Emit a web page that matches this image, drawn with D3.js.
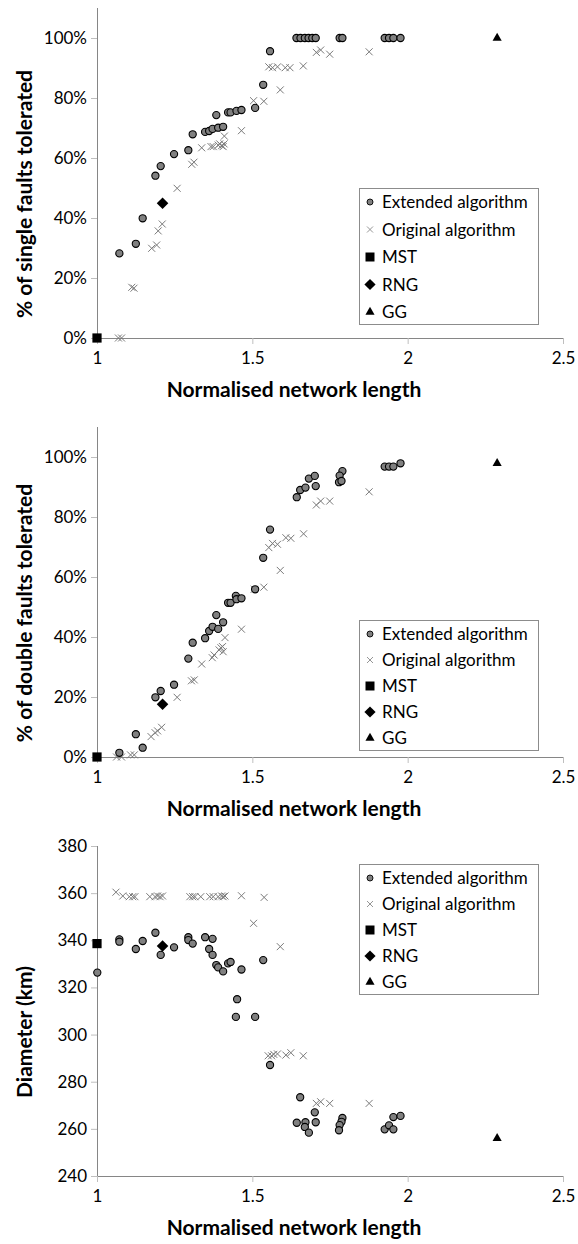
<!DOCTYPE html>
<html>
<head>
<meta charset="utf-8">
<script src="https://cdn.jsdelivr.net/npm/d3@7"></script>
<style>
  html, body { margin: 0; padding: 0; background: #fff; }
  svg { display: block; font-family: Lato, "Open Sans", sans-serif; }
</style>
</head>
<body>
<svg id="chart" width="578" height="1244"></svg>
<script>
// ---------- DATA ----------
const xTicks = [1, 1.5, 2, 2.5];
const xTitle = "Normalised network length";
const seriesNames = ["Extended algorithm", "Original algorithm", "MST", "RNG", "GG"];

// Reference graphs (x = normalised length)
const mstX = 1.0, rngX = 1.211, ggX = 2.288;

// Panel 1: % of single faults tolerated
const single_extX = [1.072,1.125,1.147,1.188,1.205,1.248,1.294,1.308,1.348,1.361,1.372,1.384,1.390,1.406,1.422,1.430,1.449,1.465,1.509,1.535,1.557,1.642,1.655,1.669,1.681,1.693,1.704,1.781,1.790,1.926,1.940,1.954,1.977];
const single_extY = [28.2,31.4,39.9,54.1,57.3,61.3,62.6,67.9,68.7,69.0,69.7,74.3,70.1,70.4,75.2,75.2,75.7,76.0,76.7,84.4,95.6,100,100,100,100,100,100,100,100,100,100,100,100];
const single_origX = [1.069,1.079,1.112,1.119,1.176,1.192,1.197,1.210,1.258,1.305,1.312,1.337,1.367,1.374,1.390,1.395,1.401,1.406,1.409,1.410,1.465,1.504,1.537,1.553,1.565,1.581,1.590,1.606,1.621,1.664,1.706,1.720,1.749,1.876];
const single_origY = [0,0,16.9,16.6,29.9,31.0,35.7,38.0,49.9,57.9,58.6,63.4,63.8,63.8,64.3,64.7,64.1,63.8,64.7,67.3,69.1,79.1,78.9,90.4,90.1,90.4,82.7,90.1,90.1,90.7,95.2,96.0,94.6,95.4];
const single_ref = [0, 44.9, 100];          // MST, RNG, GG
const single_yTicks = [0, 20, 40, 60, 80, 100];

// Panel 2: % of double faults tolerated
const double_extX = [1.072,1.147,1.125,1.188,1.205,1.248,1.294,1.308,1.348,1.361,1.372,1.390,1.406,1.384,1.422,1.430,1.447,1.449,1.465,1.509,1.535,1.557,1.643,1.654,1.671,1.682,1.701,1.704,1.790,1.781,1.779,1.787,1.926,1.940,1.954,1.977];
const double_extY = [1.4,3.1,7.6,19.9,22.0,24.1,32.8,38.1,39.6,42.0,43.4,42.7,44.9,47.3,51.4,51.4,53.7,52.6,52.9,55.9,66.4,75.8,86.6,89.0,89.8,92.8,93.7,90.3,95.3,93.8,91.6,92.0,96.8,96.8,96.8,97.9];
const double_origX = [1.063,1.079,1.108,1.120,1.174,1.187,1.195,1.208,1.258,1.304,1.313,1.337,1.371,1.377,1.393,1.399,1.406,1.404,1.412,1.465,1.506,1.537,1.553,1.565,1.581,1.590,1.608,1.624,1.665,1.706,1.720,1.749,1.876];
const double_origY = [0,0,0.7,0.7,6.8,8.1,8.7,9.9,19.9,25.4,25.7,31.0,33.1,34.0,35.7,36.4,35.1,36.8,39.8,42.6,55.9,56.6,69.8,71.2,70.9,62.2,73.1,72.9,74.4,84.0,85.3,85.3,88.4];
const double_ref = [0, 17.6, 97.9];
const double_yTicks = [0, 20, 40, 60, 80, 100];

// Panel 3: Diameter (km)
const diam_extX = [1.001,1.072,1.072,1.125,1.147,1.188,1.205,1.248,1.294,1.294,1.308,1.348,1.372,1.361,1.372,1.384,1.390,1.406,1.422,1.430,1.465,1.451,1.447,1.509,1.535,1.557,1.654,1.701,1.643,1.671,1.669,1.682,1.704,1.790,1.787,1.781,1.779,1.926,1.940,1.954,1.954,1.977];
const diam_extY = [326.3,340.4,339.4,336.3,339.7,343.2,333.8,337.0,341.3,340.1,338.6,341.3,340.6,336.3,333.8,329.5,328.5,326.8,330.2,330.8,327.6,315.0,307.5,307.5,331.6,287.1,273.4,267.0,262.6,262.8,260.8,258.4,262.8,264.6,263.0,261.6,259.4,259.8,261.5,259.8,265.0,265.5];
const diam_origX = [1.061,1.083,1.104,1.115,1.122,1.170,1.187,1.195,1.203,1.211,1.299,1.308,1.315,1.334,1.363,1.374,1.390,1.401,1.406,1.412,1.465,1.538,1.504,1.590,1.551,1.562,1.569,1.581,1.608,1.624,1.664,1.706,1.720,1.749,1.876];
const diam_origY = [360.4,358.8,358.5,358.5,358.5,358.5,358.5,358.8,358.5,358.8,358.5,358.5,358.5,358.5,358.5,358.5,358.5,358.8,358.5,358.8,358.9,358.2,347.2,337.3,291.0,291.0,291.6,291.8,291.3,292.3,291.0,270.8,271.5,270.8,270.8];
const diam_ref = [338.6, 337.6, 256];
const diam_yTicks = [240, 260, 280, 300, 320, 340, 360, 380];

// ---------- LAYOUT ----------
const svg = d3.select("#chart");
const LEFT = 97, RIGHT = 563;
const x = d3.scaleLinear().domain([1, 2.5]).range([LEFT, RIGHT]);

const panels = [
  { top: 8,   bottom: 338,  domain: [0, 110],   ticks: single_yTicks, fmt: d => d + "%",
    title: "% of single faults tolerated",
    extX: single_extX, extY: single_extY, origX: single_origX, origY: single_origY, ref: single_ref,
    legendTop: 188, legendGap: 27.5 },
  { top: 427, bottom: 757,  domain: [0, 110],   ticks: double_yTicks, fmt: d => d + "%",
    title: "% of double faults tolerated",
    extX: double_extX, extY: double_extY, origX: double_origX, origY: double_origY, ref: double_ref,
    legendTop: 620, legendGap: 26 },
  { top: 846, bottom: 1176, domain: [240, 380], ticks: diam_yTicks, fmt: d => d,
    title: "Diameter (km)",
    extX: diam_extX, extY: diam_extY, origX: diam_origX, origY: diam_origY, ref: diam_ref,
    legendTop: 864, legendGap: 26 }
];

const AXIS = "#868686", TICK = "#bfbfbf";
const sym = {
  square: d3.symbol().type(d3.symbolSquare),
  diamond: d3.symbol().type(d3.symbolDiamond2),
  triangle: d3.symbol().type(d3.symbolTriangle2)
};

function drawX(g, cx, cy, h, color, w) {
  g.append("path")
    .attr("d", `M${cx-h},${cy-h}L${cx+h},${cy+h}M${cx-h},${cy+h}L${cx+h},${cy-h}`)
    .attr("stroke", color).attr("stroke-width", w).attr("fill", "none");
}

panels.forEach(p => {
  const y = d3.scaleLinear().domain(p.domain).range([p.bottom, p.top]);
  const g = svg.append("g");

  // y axis
  const yAxis = d3.axisLeft(y).tickValues(p.ticks).tickFormat(p.fmt).tickSize(6).tickPadding(4);
  const ya = g.append("g").attr("transform", `translate(${LEFT},0)`).call(yAxis);
  ya.select(".domain").attr("stroke", AXIS).attr("d", `M0.5,${p.top}V${p.bottom}`);
  ya.selectAll(".tick line").attr("stroke", TICK);
  ya.selectAll(".tick text").attr("font-size", 17).attr("fill", "#000")
    .attr("font-family", "Lato, 'Open Sans', sans-serif");

  // x axis
  const xAxis = d3.axisBottom(x).tickValues(xTicks).tickFormat(d3.format("")).tickSize(6).tickPadding(8);
  const xa = g.append("g").attr("transform", `translate(0,${p.bottom})`).call(xAxis);
  xa.select(".domain").attr("stroke", AXIS).attr("d", `M${LEFT},0.5H${RIGHT}`);
  xa.selectAll(".tick line").attr("stroke", TICK);
  xa.selectAll(".tick text").attr("font-size", 17).attr("fill", "#000")
    .attr("font-family", "Lato, 'Open Sans', sans-serif");

  // axis titles
  g.append("text").attr("x", (LEFT + RIGHT) / 2 - 36).attr("y", p.bottom + 59)
    .attr("text-anchor", "middle").attr("font-weight", "bold").attr("font-size", 21)
    .text(xTitle);
  g.append("text")
    .attr("transform", `translate(32,${(p.top + p.bottom) / 2 + 21}) rotate(-90)`)
    .attr("text-anchor", "middle").attr("font-weight", "bold").attr("font-size", 21)
    .text(p.title);

  // original algorithm (x marks)
  const og = g.append("g");
  p.origX.forEach((v, i) => drawX(og, x(v), y(p.origY[i]), 3.5, "#7a7a7a", 1));

  // extended algorithm (circles)
  g.append("g").selectAll("circle")
    .data(p.extX.map((v, i) => [v, p.extY[i]]))
    .join("circle")
    .attr("cx", d => x(d[0])).attr("cy", d => y(d[1])).attr("r", 3.6)
    .attr("fill", "#808080").attr("stroke", "#000").attr("stroke-width", 1.1);

  // reference markers
  g.append("path").attr("d", sym.square.size(85)())
    .attr("transform", `translate(${x(mstX)},${y(p.ref[0])})`).attr("fill", "#000");
  g.append("path").attr("d", sym.diamond.size(85)())
    .attr("transform", `translate(${x(rngX)},${y(p.ref[1])})`).attr("fill", "#000");
  g.append("path").attr("d", sym.triangle.size(60)())
    .attr("transform", `translate(${x(ggX)},${y(p.ref[2])})`).attr("fill", "#000");

  // legend
  const lx = 359, lw = 179, lt = p.legendTop, gap = p.legendGap;
  const lh = 14 + 4 * gap + 12;
  const lg = g.append("g");
  lg.append("rect").attr("x", lx + 0.5).attr("y", lt + 0.5).attr("width", lw).attr("height", lh)
    .attr("fill", "#fff").attr("stroke", "#8c8c8c");
  seriesNames.forEach((name, i) => {
    const cy = lt + 14 + i * gap;
    const mx = lx + 11;
    if (i === 0) lg.append("circle").attr("cx", mx).attr("cy", cy).attr("r", 3)
      .attr("fill", "#808080").attr("stroke", "#000").attr("stroke-width", 0.9);
    if (i === 1) drawX(lg, mx, cy, 3, "#8a8a8a", 0.9);
    if (i === 2) lg.append("path").attr("d", sym.square.size(81)()).attr("transform", `translate(${mx},${cy})`);
    if (i === 3) lg.append("path").attr("d", sym.diamond.size(80)()).attr("transform", `translate(${mx},${cy})`);
    if (i === 4) lg.append("path").attr("d", sym.triangle.size(60)()).attr("transform", `translate(${mx},${cy})`);
    lg.append("text").attr("x", lx + 23).attr("y", cy).attr("dy", "0.36em")
      .attr("font-size", 17).text(name);
  });
});
</script>
</body>
</html>
